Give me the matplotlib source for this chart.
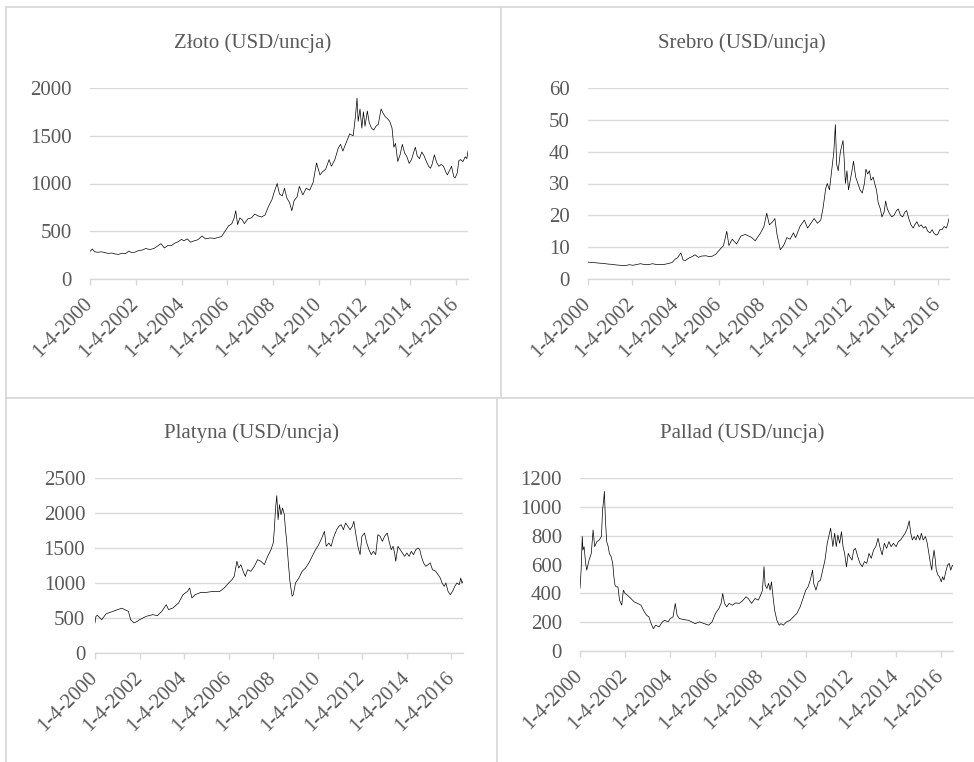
import matplotlib
matplotlib.use("Agg")
import matplotlib.pyplot as plt
from matplotlib.lines import Line2D

plt.rcParams["font.family"] = ["Liberation Serif", "DejaVu Serif"]

# ---- data (decimal years) ----------------------------------------------
year_ticks = [2000, 2002, 2004, 2006, 2008, 2010, 2012, 2014, 2016]
tick_labels = ["1-4-2000", "1-4-2002", "1-4-2004", "1-4-2006", "1-4-2008",
               "1-4-2010", "1-4-2012", "1-4-2014", "1-4-2016"]

gold_t = [
    2000.00, 2000.05, 2000.10, 2000.20, 2000.35, 2000.50, 2000.65, 2000.80, 2000.95, 2001.10,
    2001.25, 2001.40, 2001.55, 2001.70, 2001.80, 2001.95, 2002.10, 2002.30, 2002.45, 2002.60,
    2002.80, 2002.95, 2003.10, 2003.25, 2003.40, 2003.55, 2003.70, 2003.85, 2004.00, 2004.10,
    2004.25, 2004.40, 2004.55, 2004.70, 2004.90, 2005.05, 2005.25, 2005.45, 2005.60, 2005.75,
    2005.90, 2006.05, 2006.20, 2006.30, 2006.37, 2006.45, 2006.55, 2006.65, 2006.75, 2006.90,
    2007.05, 2007.20, 2007.35, 2007.50, 2007.65, 2007.80, 2007.95, 2008.05, 2008.18, 2008.28,
    2008.40, 2008.50, 2008.60, 2008.72, 2008.82, 2008.92, 2009.05, 2009.15, 2009.30, 2009.45,
    2009.60, 2009.75, 2009.90, 2010.05, 2010.15, 2010.30, 2010.45, 2010.55, 2010.70, 2010.85,
    2010.95, 2011.05, 2011.20, 2011.35, 2011.50, 2011.60, 2011.67, 2011.72, 2011.80, 2011.88,
    2011.95, 2012.02, 2012.12, 2012.20, 2012.30, 2012.40, 2012.50, 2012.60, 2012.72, 2012.80,
    2012.90, 2013.00, 2013.10, 2013.20, 2013.28, 2013.35, 2013.45, 2013.55, 2013.65, 2013.75,
    2013.85, 2013.95, 2014.05, 2014.15, 2014.22, 2014.30, 2014.40, 2014.50, 2014.60, 2014.70,
    2014.80, 2014.88, 2014.95, 2015.05, 2015.15, 2015.25, 2015.35, 2015.45, 2015.55, 2015.62,
    2015.72, 2015.80, 2015.90, 2015.96, 2016.05, 2016.12, 2016.20, 2016.30, 2016.40, 2016.47,
    2016.52]
gold_v = [
    290, 300, 315, 285, 280, 285, 276, 268, 272, 262,
    258, 270, 266, 292, 278, 280, 295, 305, 320, 308,
    320, 345, 370, 325, 350, 348, 375, 390, 415, 400,
    420, 385, 400, 410, 450, 420, 430, 425, 435, 445,
    500, 555, 580, 640, 715, 570, 640, 620, 580, 630,
    640, 680, 660, 650, 670, 760, 830, 910, 1000, 890,
    870, 950, 850, 800, 715, 820, 860, 970, 880, 950,
    930, 1010, 1215, 1090, 1120, 1150, 1250, 1180, 1250, 1370,
    1410, 1340, 1430, 1520, 1500, 1700, 1895, 1650, 1780, 1580,
    1750, 1600, 1760, 1640, 1580, 1560, 1600, 1620, 1780, 1740,
    1700, 1680, 1650, 1580, 1380, 1420, 1230, 1300, 1410, 1320,
    1280, 1210, 1250, 1330, 1380, 1290, 1260, 1330, 1290, 1230,
    1180, 1160, 1200, 1300, 1220, 1180, 1200, 1180, 1120, 1090,
    1140, 1180, 1070, 1060, 1110, 1240, 1250, 1230, 1280, 1260,
    1340]

silver_t = [
    2000.00, 2000.15, 2000.30, 2000.50, 2000.70, 2000.90, 2001.10, 2001.30, 2001.50, 2001.70,
    2001.90, 2002.05, 2002.25, 2002.40, 2002.55, 2002.75, 2002.95, 2003.10, 2003.30, 2003.50,
    2003.70, 2003.85, 2004.00, 2004.10, 2004.25, 2004.35, 2004.45, 2004.60, 2004.75, 2004.90,
    2005.05, 2005.20, 2005.40, 2005.55, 2005.70, 2005.85, 2006.00, 2006.20, 2006.35, 2006.45,
    2006.60, 2006.80, 2007.00, 2007.20, 2007.50, 2007.65, 2007.90, 2008.05, 2008.18, 2008.30,
    2008.45, 2008.55, 2008.65, 2008.80, 2008.95, 2009.10, 2009.25, 2009.40, 2009.50, 2009.70,
    2009.90, 2010.05, 2010.15, 2010.35, 2010.50, 2010.65, 2010.75, 2010.88, 2010.95, 2011.05,
    2011.15, 2011.25, 2011.32, 2011.38, 2011.45, 2011.55, 2011.62, 2011.67, 2011.72, 2011.78,
    2011.85, 2011.92, 2012.00, 2012.08, 2012.15, 2012.25, 2012.35, 2012.45, 2012.55, 2012.65,
    2012.72, 2012.80, 2012.88, 2012.95, 2013.05, 2013.12, 2013.20, 2013.28, 2013.38, 2013.45,
    2013.55, 2013.62, 2013.70, 2013.80, 2013.90, 2014.00, 2014.12, 2014.20, 2014.30, 2014.40,
    2014.50, 2014.58, 2014.68, 2014.78, 2014.88, 2014.95, 2015.05, 2015.15, 2015.25, 2015.35,
    2015.45, 2015.55, 2015.65, 2015.75, 2015.82, 2015.92, 2016.00, 2016.10, 2016.20, 2016.30,
    2016.40, 2016.47, 2016.52]
silver_v = [
    5.3, 5.2, 5.1, 5.0, 4.9, 4.7, 4.6, 4.4, 4.3, 4.2,
    4.5, 4.3, 4.6, 4.8, 4.6, 4.5, 4.8, 4.6, 4.5, 4.6,
    4.9, 5.2, 6.3, 6.7, 8.2, 6.0, 5.8, 6.5, 7.0, 7.6,
    6.8, 7.2, 7.3, 7.0, 7.2, 7.8, 9.0, 10.5, 15.0, 10.5,
    12.5, 11.0, 13.5, 14.0, 13.0, 12.0, 14.5, 16.5, 20.7, 17.0,
    18.0, 19.0, 14.0, 9.2, 10.5, 13.0, 12.5, 14.5, 13.0, 16.5,
    18.5, 16.0, 17.0, 19.0, 17.5, 18.5, 22.0, 28.5, 30.0, 28.0,
    34.0, 40.0, 48.5, 36.0, 34.0, 40.0, 42.0, 43.5, 38.0, 30.0,
    34.0, 28.0, 31.0, 34.0, 37.0, 32.0, 30.0, 28.0, 27.0, 30.0,
    34.5, 33.0, 34.0, 31.0, 32.0, 30.0, 28.0, 24.0, 22.0, 19.5,
    21.0, 24.5, 22.0, 20.5, 19.5, 20.0, 21.5, 22.0, 20.0, 19.5,
    21.0, 21.5, 19.0, 17.0, 16.0, 17.0, 18.0, 16.5, 17.0, 16.0,
    16.5, 15.0, 14.5, 15.5, 14.5, 13.8, 14.0, 15.5, 15.5, 16.5,
    16.0, 17.5, 19.0]

plat_t = [
    2000.00, 2000.04, 2000.10, 2000.30, 2000.50, 2000.80, 2001.00, 2001.20, 2001.40, 2001.50,
    2001.60, 2001.75, 2001.90, 2002.00, 2002.30, 2002.60, 2002.80, 2003.00, 2003.20, 2003.30,
    2003.50, 2003.75, 2003.95, 2004.15, 2004.25, 2004.35, 2004.50, 2004.75, 2005.00, 2005.30,
    2005.60, 2005.80, 2006.00, 2006.15, 2006.25, 2006.37, 2006.45, 2006.55, 2006.65, 2006.75,
    2006.85, 2007.00, 2007.15, 2007.30, 2007.45, 2007.60, 2007.75, 2007.90, 2008.00, 2008.05,
    2008.10, 2008.16, 2008.22, 2008.28, 2008.35, 2008.42, 2008.50, 2008.55, 2008.60, 2008.68,
    2008.75, 2008.85, 2008.90, 2009.00, 2009.15, 2009.30, 2009.45, 2009.60, 2009.75, 2009.90,
    2010.00, 2010.15, 2010.30, 2010.38, 2010.50, 2010.60, 2010.70, 2010.85, 2010.95, 2011.05,
    2011.15, 2011.25, 2011.35, 2011.45, 2011.55, 2011.62, 2011.70, 2011.80, 2011.90, 2011.98,
    2012.10, 2012.20, 2012.30, 2012.40, 2012.50, 2012.60, 2012.70, 2012.80, 2012.90, 2013.00,
    2013.12, 2013.20, 2013.30, 2013.38, 2013.45, 2013.50, 2013.60, 2013.70, 2013.80, 2013.90,
    2014.00, 2014.10, 2014.20, 2014.30, 2014.40, 2014.50, 2014.58, 2014.65, 2014.75, 2014.85,
    2014.95, 2015.05, 2015.15, 2015.30, 2015.40, 2015.50, 2015.58, 2015.68, 2015.75, 2015.85,
    2015.95, 2016.05, 2016.15, 2016.25, 2016.35, 2016.42, 2016.47, 2016.52]
plat_v = [
    430, 520, 540, 476, 560, 595, 620, 640, 610, 595,
    476, 430, 452, 476, 524, 548, 533, 595, 690, 620,
    643, 714, 833, 880, 929, 786, 833, 866, 866, 880,
    880, 929, 1000, 1048, 1095, 1310, 1214, 1262, 1167, 1095,
    1190, 1167, 1238, 1333, 1310, 1262, 1381, 1476, 1571, 1762,
    2048, 2248, 1905, 2119, 1976, 2071, 1976, 1762, 1619, 1286,
    1024, 810, 833, 1000, 1071, 1167, 1214, 1286, 1381, 1476,
    1524, 1619, 1738, 1524, 1571, 1524, 1643, 1762, 1810, 1833,
    1762, 1857, 1810, 1762, 1810, 1881, 1714, 1524, 1405, 1667,
    1714, 1571, 1476, 1405, 1452, 1405, 1690, 1667, 1595, 1667,
    1714, 1595, 1476, 1524, 1429, 1310, 1524, 1476, 1429, 1381,
    1429, 1381, 1452, 1405, 1476, 1500, 1476, 1381, 1286, 1238,
    1262, 1286, 1190, 1167, 1119, 1071, 1000, 952, 1000, 880,
    833, 880, 952, 1000, 976, 1071, 1000, 1024]

pall_t = [
    2000.00, 2000.05, 2000.10, 2000.13, 2000.18, 2000.25, 2000.30, 2000.40, 2000.50, 2000.58,
    2000.65, 2000.75, 2000.85, 2000.95, 2001.00, 2001.05, 2001.08, 2001.12, 2001.18, 2001.25,
    2001.30, 2001.38, 2001.45, 2001.50, 2001.55, 2001.60, 2001.68, 2001.75, 2001.85, 2001.92,
    2002.00, 2002.10, 2002.25, 2002.40, 2002.55, 2002.70, 2002.85, 2002.95, 2003.05, 2003.15,
    2003.25, 2003.35, 2003.50, 2003.65, 2003.75, 2003.90, 2004.00, 2004.12, 2004.22, 2004.30,
    2004.40, 2004.60, 2004.80, 2004.95, 2005.10, 2005.30, 2005.50, 2005.70, 2005.85, 2006.00,
    2006.15, 2006.25, 2006.32, 2006.40, 2006.50, 2006.60, 2006.75, 2006.90, 2007.05, 2007.20,
    2007.35, 2007.45, 2007.60, 2007.75, 2007.90, 2008.00, 2008.08, 2008.15, 2008.20, 2008.28,
    2008.35, 2008.42, 2008.48, 2008.55, 2008.62, 2008.72, 2008.82, 2008.90, 2009.00, 2009.15,
    2009.30, 2009.45, 2009.60, 2009.75, 2009.85, 2010.00, 2010.10, 2010.20, 2010.30, 2010.35,
    2010.45, 2010.55, 2010.65, 2010.75, 2010.85, 2010.95, 2011.05, 2011.10, 2011.20, 2011.28,
    2011.35, 2011.42, 2011.50, 2011.58, 2011.65, 2011.72, 2011.80, 2011.88, 2011.95, 2012.05,
    2012.12, 2012.20, 2012.30, 2012.40, 2012.50, 2012.60, 2012.70, 2012.80, 2012.90, 2013.00,
    2013.10, 2013.20, 2013.28, 2013.38, 2013.48, 2013.58, 2013.68, 2013.78, 2013.88, 2014.00,
    2014.10, 2014.20, 2014.30, 2014.40, 2014.50, 2014.58, 2014.65, 2014.72, 2014.80, 2014.88,
    2014.95, 2015.05, 2015.12, 2015.20, 2015.30, 2015.38, 2015.45, 2015.52, 2015.58, 2015.62,
    2015.68, 2015.72, 2015.78, 2015.85, 2015.92, 2016.00, 2016.06, 2016.12, 2016.20, 2016.28,
    2016.35, 2016.42, 2016.47, 2016.52]
pall_v = [
    434, 561, 794, 700, 724, 608, 561, 631, 677, 840,
    724, 759, 770, 794, 979, 1049, 1107, 933, 759, 724,
    677, 654, 608, 515, 457, 445, 445, 353, 318, 422,
    399, 387, 364, 341, 330, 318, 271, 248, 237, 190,
    155, 179, 167, 202, 213, 202, 225, 237, 330, 248,
    225, 218, 213, 202, 190, 202, 190, 179, 202, 260,
    295, 330, 399, 330, 306, 330, 318, 334, 330, 348,
    376, 364, 330, 364, 353, 387, 422, 585, 457, 434,
    469, 422, 480, 376, 283, 213, 179, 190, 179, 202,
    213, 237, 260, 306, 353, 422, 445, 492, 561, 469,
    422, 480, 492, 561, 631, 747, 817, 852, 724, 817,
    724, 805, 747, 828, 724, 677, 585, 677, 654, 631,
    700, 712, 654, 608, 585, 620, 608, 677, 643, 700,
    724, 782, 724, 666, 747, 712, 759, 724, 747, 724,
    759, 770, 794, 817, 852, 903, 817, 770, 794, 770,
    805, 770, 817, 770, 794, 747, 677, 608, 561, 631,
    700, 654, 561, 527, 515, 480, 515, 492, 550, 596,
    608, 561, 585, 596]

titles = ["Złoto (USD/uncja)", "Srebro (USD/uncja)",
          "Platyna (USD/uncja)", "Pallad (USD/uncja)"]
yticks = [[0, 500, 1000, 1500, 2000],
          [0, 10, 20, 30, 40, 50, 60],
          [0, 500, 1000, 1500, 2000, 2500],
          [0, 200, 400, 600, 800, 1000, 1200]]

# ---- layout in pixels --------------------------------------------------
W, H = 974, 762
GRID = "#d9d9d9"
TXT = "#595959"
# (left, top, right, bottom) of each plot area
boxes = [(90, 88, 468, 279), (588, 88, 949, 279),
         (95, 478, 463, 653), (580, 478, 953, 651)]
title_pos = [(253, 43), (742, 43), (252, 433), (742, 433)]
ypads = [13, 13, 7, 13]

fig = plt.figure(figsize=(W / 100, H / 100), dpi=100)

series = [(gold_t, gold_v), (silver_t, silver_v),
          (plat_t, plat_v), (pall_t, pall_v)]

for i, (t, v) in enumerate(series):
    x0, y0, x1, y1 = boxes[i]
    ax = fig.add_axes([x0 / W, 1 - y1 / H, (x1 - x0) / W, (y1 - y0) / H])
    ax.plot(t, v, color="black", lw=0.5)
    ax.set_xlim(2000, 2016.52)
    ax.set_ylim(yticks[i][0], yticks[i][-1])
    ax.set_yticks(yticks[i])
    ax.set_xticks(year_ticks)
    ax.set_xticklabels(tick_labels, rotation=45, ha="right", va="center",
                       rotation_mode="anchor")
    ax.yaxis.grid(True, color=GRID, lw=1.0)
    ax.set_axisbelow(True)
    for s in ("top", "right", "left"):
        ax.spines[s].set_visible(False)
    ax.spines["bottom"].set_color(GRID)
    ax.spines["bottom"].set_linewidth(1.0)
    ax.tick_params(axis="y", length=0, pad=ypads[i], labelsize=15,
                   labelcolor=TXT)
    ax.tick_params(axis="x", length=4, width=1.0, color=GRID, pad=12,
                   labelsize=15, labelcolor=TXT)
    cx, cy = title_pos[i]
    fig.text(cx / W, 1 - cy / H, titles[i], ha="center", va="center",
             fontsize=15, color=TXT)

# panel borders
borders = [((6, 974), (7, 7)), ((6, 6), (7, 762)), ((501, 501), (7, 398)),
           ((6, 974), (398, 398)), ((497, 497), (398, 762))]
for xs, ys in borders:
    fig.add_artist(Line2D([x / W for x in xs], [1 - y / H for y in ys],
                          transform=fig.transFigure, color=GRID, lw=1.3))

fig.savefig("out.png", dpi=100)
